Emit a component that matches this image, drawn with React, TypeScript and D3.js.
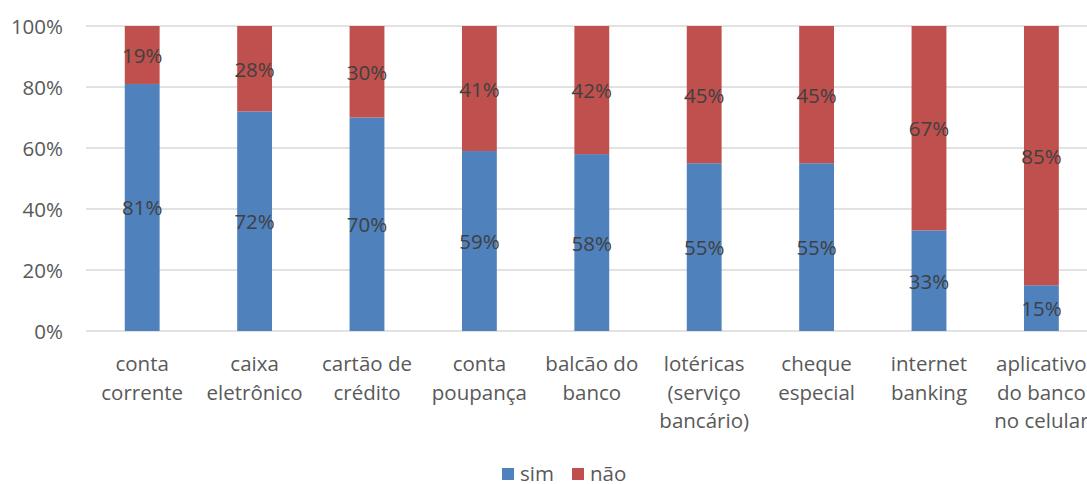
import React from "react";
import * as d3 from "d3";

const categories: string[][] = [
  ["conta", "corrente"],
  ["caixa", "eletrônico"],
  ["cartão de", "crédito"],
  ["conta", "poupança"],
  ["balcão do", "banco"],
  ["lotéricas", "(serviço", "bancário)"],
  ["cheque", "especial"],
  ["internet", "banking"],
  ["aplicativo", "do banco", "no celular"],
];
const simValues = [81, 72, 70, 59, 58, 55, 55, 33, 15];
const naoValues = [19, 28, 30, 41, 42, 45, 45, 67, 85];
const yTicks = [0, 20, 40, 60, 80, 100];
const seriesNames = ["sim", "não"];
const colors = ["#4F81BD", "#C0504D"];

const W = 1087;
const H = 484;
const left = 86;
const step = 112.4;
const FONT = "'Open Sans', 'Noto Sans', sans-serif";
const FS = 20.5;

export default function App() {
  const idx = d3.range(categories.length);
  const x = d3
    .scaleBand<number>()
    .domain(idx)
    .range([left, left + step * categories.length])
    .paddingInner(0.69)
    .paddingOuter(0.345);
  const y = d3.scaleLinear().domain([0, 100]).range([331, 26]);

  return (
    <svg
      width={W}
      height={H}
      style={{ position: "absolute", left: 0, top: 0, fontFamily: FONT }}
    >
      <rect width={W} height={H} fill="#fff" />
      {yTicks.map((t) => (
        <g key={t}>
          <line x1={left} x2={W} y1={y(t)} y2={y(t)} stroke="#D9D9D9" strokeWidth={1.3} />
          <text
            x={63}
            y={y(t)}
            textAnchor="end"
            dominantBaseline="central"
            fontSize={FS}
            fill="#595959"
          >
            {t}%
          </text>
        </g>
      ))}
      {idx.map((i) => {
        const bx = x(i)!;
        const bw = x.bandwidth();
        const s = simValues[i];
        const n = naoValues[i];
        return (
          <g key={i}>
            <rect x={bx} width={bw} y={y(s)} height={y(0) - y(s)} fill={colors[0]} />
            <rect x={bx} width={bw} y={y(s + n)} height={y(s) - y(s + n)} fill={colors[1]} />
            <text
              x={bx + bw / 2}
              y={y(s / 2)}
              textAnchor="middle"
              dominantBaseline="central"
              fontSize={FS}
              fill="#404040"
            >
              {s}%
            </text>
            <text
              x={bx + bw / 2}
              y={y(s + n / 2)}
              textAnchor="middle"
              dominantBaseline="central"
              fontSize={FS}
              fill="#404040"
            >
              {n}%
            </text>
            {categories[i].map((line, k) => (
              <text
                key={k}
                x={bx + bw / 2}
                y={363 + k * 28.5}
                textAnchor="middle"
                dominantBaseline="central"
                fontSize={FS}
                fill="#595959"
              >
                {line}
              </text>
            ))}
          </g>
        );
      })}
      {seriesNames.map((nm, k) => {
        const lx = k === 0 ? 502 : 572;
        return (
          <g key={nm}>
            <rect x={lx} y={468} width={12} height={12} fill={colors[k]} />
            <text
              x={lx + 18}
              y={473}
              dominantBaseline="central"
              fontSize={FS}
              fill="#595959"
            >
              {nm}
            </text>
          </g>
        );
      })}
    </svg>
  );
}
